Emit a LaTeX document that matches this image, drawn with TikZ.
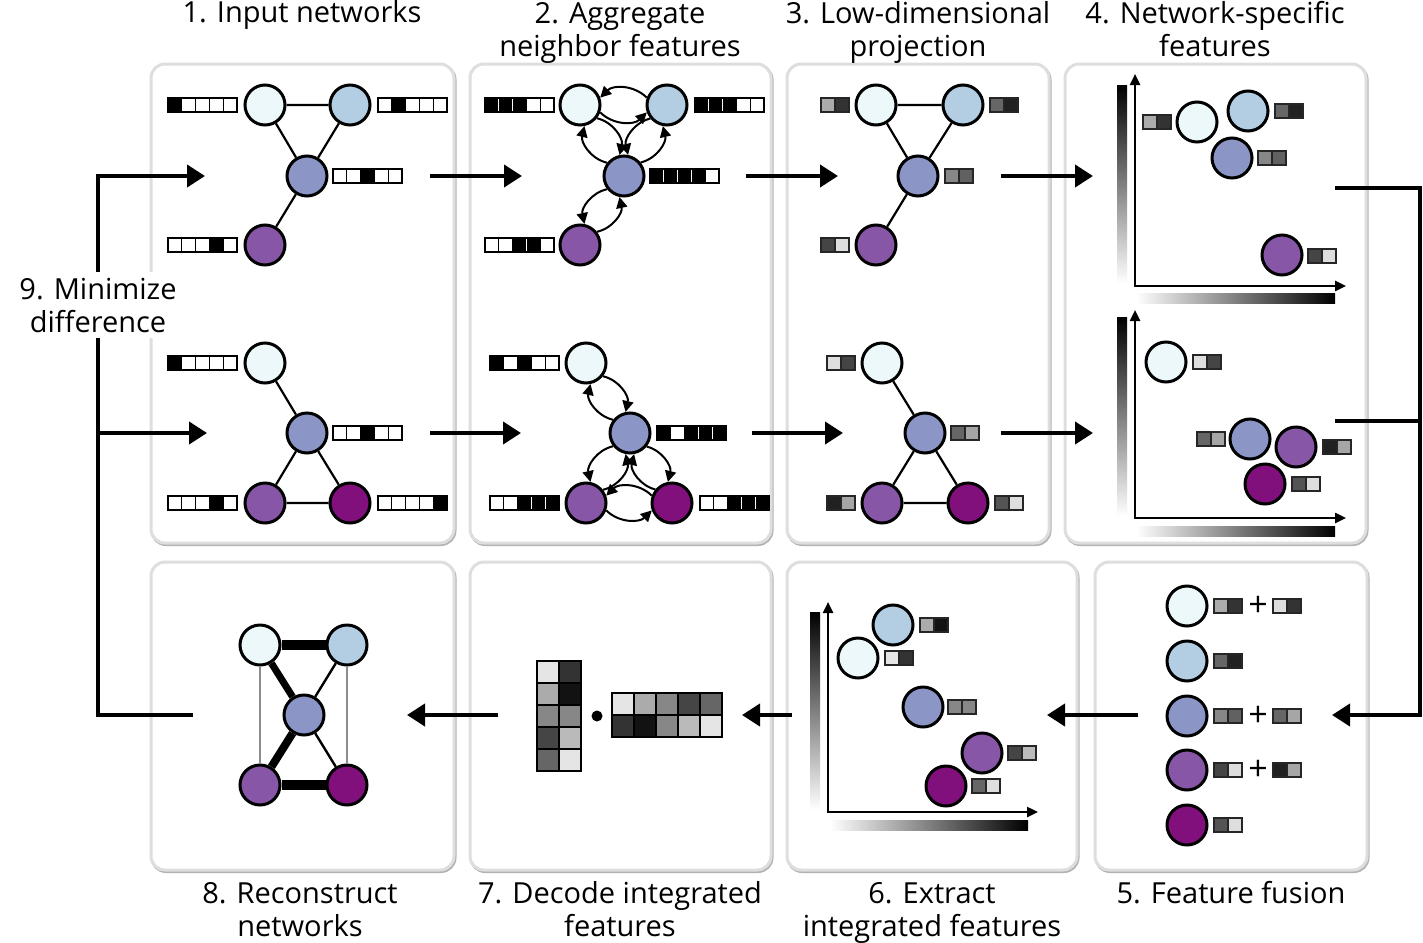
\documentclass[tikz,border=0pt]{standalone}
\usepackage{fontspec}
\setmainfont{Open Sans}
\usetikzlibrary{arrows.meta}
\definecolor{c1}{HTML}{EDF8FB}
\definecolor{c2}{HTML}{B3CDE3}
\definecolor{c3}{HTML}{8C96C6}
\definecolor{c4}{HTML}{8856A7}
\definecolor{c5}{HTML}{810F7C}
\newcommand\fvec[3]{%
  \foreach \v [count=\i, remember=\v as \pv (initially 0)] in {#3} {%
    \pgfmathsetmacro\xa{#1+(\i-1)*13.8}%
    \ifnum\v=1\relax
      \filldraw[fill=black,draw=black,line width=0.6pt] (\xa,-#2+7) rectangle ++(13.8,-14);%
    \else
      \filldraw[fill=white,draw=black,line width=0.6pt] (\xa,-#2+7) rectangle ++(13.8,-14);%
    \fi
    \ifnum\pv\v=11\relax
      \draw[white,line width=0.5pt] (\xa,-#2+5.6) -- (\xa,-#2-5.6);%
    \fi
  }%
}
\newcommand\gvec[4]{%
  \filldraw[fill=#3,draw=black!85,line width=0.6pt] (#1,-#2+7) rectangle ++(14,-14);
  \filldraw[fill=#4,draw=black!85,line width=0.6pt] (#1+14,-#2+7) rectangle ++(14,-14);}
\newcommand\panel[4]{%
  \draw[black!30,line width=1.5pt,rounded corners=7pt] (#1+1,-#2-1.5) rectangle (#3+1,-#4-1.5);
  \draw[black!13,line width=1.5pt,rounded corners=7pt,fill=white] (#1,-#2) rectangle (#3,-#4);}
\newcommand\biarc[5]{%
  \pgfmathtruncatemacro\ea{#3-20*#4}%
  \pgfmathtruncatemacro\eb{#3+180+20*#4}%
  \pgfmathtruncatemacro\ec{#3+180-20*#4}%
  \pgfmathtruncatemacro\ed{#3+20*#4}%
  \draw[carr] (#1.\ea) to[#5=45] (#2.\eb);
  \draw[carr] (#2.\ec) to[#5=45] (#1.\ed);}
\begin{document}
\begin{tikzpicture}[x=0.5pt,y=0.5pt,
  nd/.style={circle,draw=black,line width=1.5pt,minimum size=20pt,inner sep=0pt},
  edge/.style={line width=1.1pt},
  bigarr/.style={line width=2pt,-{Triangle[length=9pt,width=11pt]}},
  fb/.style={line width=2pt},
  carr/.style={line width=1pt,-{Triangle[length=5.5pt,width=5.5pt]}},
  axes/.style={line width=1.2pt,{Triangle[length=5.5pt,width=5pt]}-{Triangle[length=5.5pt,width=5pt]}},
  lbl/.style={font=\fontsize{14.5pt}{16.5pt}\selectfont,inner sep=0pt,align=center},
  plus/.style={font=\fontsize{17pt}{18pt}\selectfont,inner sep=0pt},
  mcell/.style={draw=black,line width=0.9pt}]
\useasboundingbox (0,0) rectangle (1423,-942);
% panels
\panel{151}{64}{454}{543}
\panel{470}{64}{771}{543}
\panel{787}{64}{1049}{543}
\panel{1065}{64}{1366}{543}
\panel{151}{562}{454}{870}
\panel{470}{562}{771}{870}
\panel{787}{562}{1077}{870}
\panel{1095}{562}{1367}{870}
% titles (anchor base = baseline of the last line)
\node[lbl,anchor=base] (t1) at (302,-23) {1. Input networks};
\node[lbl,anchor=base] (t2) at (620,-56) {2. Aggregate\\neighbor features};
\node[lbl,anchor=base] (t3) at (918,-56) {3. Low-dimensional\\projection};
\node[lbl,anchor=base] (t4) at (1215,-56) {4. Network-specific\\features};
\node[lbl,anchor=base] (t8) at (300,-936) {8. Reconstruct\\networks};
\node[lbl,anchor=base] (t7) at (620,-936) {7. Decode integrated\\features};
\node[lbl,anchor=base] (t6) at (932,-936) {6. Extract\\integrated features};
\node[lbl,anchor=base] (t5) at (1231,-903) {5. Feature fusion};
% feedback lines
\coordinate (fbs) at (193,-715);
\coordinate (fbc1) at (98,-715);
\coordinate (fbc2) at (98,-176);
\coordinate (fbe1) at (205,-176);
\coordinate (fbb) at (98,-433);
\coordinate (fbe2) at (207,-433);
\draw[bigarr] (fbs) -- (fbc1) -- (fbc2) -- (fbe1);
\draw[bigarr] (fbb) -- (fbe2);
\node[lbl,anchor=base,fill=white,inner sep=3pt] (t9) at (98,-332) {9. Minimize\\difference};
\coordinate (rs1) at (1335,-188);
\coordinate (rs2) at (1335,-421);
\coordinate (rc1) at (1420,-188);
\coordinate (rc2) at (1420,-421);
\coordinate (rc3) at (1420,-715);
\coordinate (re) at (1332,-715);
\draw[bigarr] (rs1) -- (rc1) -- (rc3) -- (re);
\draw[fb] (rs2) -- (rc2);
% inter-panel arrows
\coordinate (a1s) at (430,-176); \coordinate (a1e) at (522,-176);
\coordinate (a2s) at (746,-176); \coordinate (a2e) at (838,-176);
\coordinate (a3s) at (1001,-176); \coordinate (a3e) at (1093,-176);
\coordinate (b1s) at (430,-433); \coordinate (b1e) at (521,-433);
\coordinate (b2s) at (752,-433); \coordinate (b2e) at (843,-433);
\coordinate (b3s) at (1001,-433); \coordinate (b3e) at (1093,-433);
\coordinate (c1s) at (1138,-715); \coordinate (c1e) at (1047,-715);
\coordinate (c2s) at (792,-715); \coordinate (c2e) at (742,-715);
\coordinate (c3s) at (498,-715); \coordinate (c3e) at (407,-715);
\foreach \s/\e in {a1s/a1e,a2s/a2e,a3s/a3e,b1s/b1e,b2s/b2e,b3s/b3e,c1s/c1e,c2s/c2e,c3s/c3e}
  \draw[bigarr] (\s) -- (\e);
% ---- panel 1 top
\node[nd,fill=c1] (p1a) at (265,-105) {};
\node[nd,fill=c2] (p1b) at (350,-105) {};
\node[nd,fill=c3] (p1c) at (307,-176) {};
\node[nd,fill=c4] (p1d) at (265,-245) {};
\draw[edge] (p1a)--(p1b) (p1a)--(p1c) (p1b)--(p1c) (p1c)--(p1d);
\fvec{168}{105}{1,0,0,0,0}
\fvec{378}{105}{0,1,0,0,0}
\fvec{333}{176}{0,0,1,0,0}
\fvec{168}{245}{0,0,0,1,0}
% ---- panel 1 bottom
\node[nd,fill=c1] (q1a) at (265,-363) {};
\node[nd,fill=c3] (q1c) at (307,-433) {};
\node[nd,fill=c4] (q1d) at (265,-503) {};
\node[nd,fill=c5] (q1e) at (350,-503) {};
\draw[edge] (q1a)--(q1c) (q1c)--(q1d) (q1c)--(q1e) (q1d)--(q1e);
\fvec{168}{363}{1,0,0,0,0}
\fvec{333}{433}{0,0,1,0,0}
\fvec{168}{503}{0,0,0,1,0}
\fvec{378}{503}{0,0,0,0,1}
% ---- panel 2 top
\node[nd,fill=c1] (p2a) at (580,-105) {};
\node[nd,fill=c2] (p2b) at (667,-105) {};
\node[nd,fill=c3] (p2c) at (624,-176) {};
\node[nd,fill=c4] (p2d) at (580,-245) {};
\biarc{p2a}{p2b}{0}{1}{bend right}
\biarc{p2a}{p2c}{-58}{-1}{bend left}
\biarc{p2b}{p2c}{-121}{1}{bend right}
\biarc{p2c}{p2d}{-122}{1}{bend right}
\fvec{485}{105}{1,1,1,0,0}
\fvec{695}{105}{1,1,1,0,0}
\fvec{650}{176}{1,1,1,1,0}
\fvec{485}{245}{0,0,1,1,0}
% ---- panel 2 bottom
\node[nd,fill=c1] (q2a) at (586,-363) {};
\node[nd,fill=c3] (q2c) at (630,-433) {};
\node[nd,fill=c4] (q2d) at (586,-503) {};
\node[nd,fill=c5] (q2e) at (672,-503) {};
\biarc{q2a}{q2c}{-58}{-1}{bend left}
\biarc{q2c}{q2d}{-122}{1}{bend right}
\biarc{q2c}{q2e}{-59}{-1}{bend left}
\biarc{q2d}{q2e}{0}{1}{bend right}
\fvec{490}{363}{1,0,1,0,0}
\fvec{657}{433}{1,0,1,1,1}
\fvec{490}{503}{0,0,1,1,1}
\fvec{700}{503}{0,0,1,1,1}
% ---- panel 3 top
\node[nd,fill=c1] (p3a) at (876,-105) {};
\node[nd,fill=c2] (p3b) at (963,-105) {};
\node[nd,fill=c3] (p3c) at (918,-176) {};
\node[nd,fill=c4] (p3d) at (876,-245) {};
\draw[edge] (p3a)--(p3b) (p3a)--(p3c) (p3b)--(p3c) (p3c)--(p3d);
\gvec{821}{105}{black!33}{black!80}
\gvec{990}{105}{black!60}{black!87}
\gvec{945}{176}{black!47}{black!62}
\gvec{821}{245}{black!73}{black!13}
% ---- panel 3 bottom
\node[nd,fill=c1] (q3a) at (882,-363) {};
\node[nd,fill=c3] (q3c) at (925,-433) {};
\node[nd,fill=c4] (q3d) at (882,-503) {};
\node[nd,fill=c5] (q3e) at (968,-503) {};
\draw[edge] (q3a)--(q3c) (q3c)--(q3d) (q3c)--(q3e) (q3d)--(q3e);
\gvec{827}{363}{black!13}{black!73}
\gvec{951}{433}{black!60}{black!35}
\gvec{827}{503}{black!87}{black!35}
\gvec{995}{503}{black!67}{black!13}
% ---- panel 4 top
\shade[top color=black,bottom color=white] (1117,-85) rectangle (1127,-283);
\shade[left color=white,right color=black] (1136,-293) rectangle (1335,-303);
\coordinate (o4) at (1135,-286);
\coordinate (o4y) at (1135,-74);
\coordinate (o4x) at (1346,-286);
\draw[axes] (o4y) -- (o4) -- (o4x);
\node[nd,fill=c1] (p4a) at (1197,-122) {};
\node[nd,fill=c2] (p4b) at (1248,-111) {};
\node[nd,fill=c3] (p4c) at (1232,-158) {};
\node[nd,fill=c4] (p4d) at (1282,-255) {};
\gvec{1143}{122}{black!33}{black!80}
\gvec{1275}{111}{black!60}{black!87}
\gvec{1258}{158}{black!47}{black!62}
\gvec{1308}{256}{black!73}{black!13}
% ---- panel 4 bottom
\shade[top color=black,bottom color=white] (1117,-317) rectangle (1127,-516);
\shade[left color=white,right color=black] (1136,-526) rectangle (1335,-536);
\coordinate (o5) at (1135,-518);
\coordinate (o5y) at (1135,-310);
\coordinate (o5x) at (1346,-518);
\draw[axes] (o5y) -- (o5) -- (o5x);
\node[nd,fill=c1] (q4a) at (1166,-362) {};
\node[nd,fill=c3] (q4c) at (1250,-439) {};
\node[nd,fill=c4] (q4d) at (1296,-447) {};
\node[nd,fill=c5] (q4e) at (1265,-484) {};
\gvec{1193}{362}{black!13}{black!73}
\gvec{1197}{439}{black!60}{black!35}
\gvec{1323}{447}{black!87}{black!35}
\gvec{1292}{484}{black!67}{black!13}
% ---- panel 5
\node[nd,fill=c1] (f1) at (1187,-606) {};
\node[nd,fill=c2] (f2) at (1187,-661) {};
\node[nd,fill=c3] (f3) at (1187,-716) {};
\node[nd,fill=c4] (f4) at (1187,-770) {};
\node[nd,fill=c5] (f5) at (1187,-825) {};
\gvec{1214}{606}{black!33}{black!80}
\gvec{1273}{606}{black!13}{black!80}
\gvec{1214}{661}{black!60}{black!87}
\gvec{1214}{716}{black!47}{black!62}
\gvec{1273}{716}{black!60}{black!35}
\gvec{1214}{770}{black!73}{black!13}
\gvec{1273}{770}{black!87}{black!35}
\gvec{1214}{825}{black!67}{black!13}
\node[plus] (pl1) at (1258,-606) {+};
\node[plus] (pl3) at (1258,-716) {+};
\node[plus] (pl4) at (1258,-770) {+};
% ---- panel 6
\shade[top color=black,bottom color=white] (810,-612) rectangle (820,-810);
\shade[left color=white,right color=black] (830,-820) rectangle (1028,-830);
\coordinate (o6) at (828,-812);
\coordinate (o6y) at (828,-602);
\coordinate (o6x) at (1038,-812);
\draw[axes] (o6y) -- (o6) -- (o6x);
\node[nd,fill=c2] (e2) at (893,-625) {};
\node[nd,fill=c1] (e1) at (858,-658) {};
\node[nd,fill=c3] (e3) at (923,-707) {};
\node[nd,fill=c4] (e4) at (982,-753) {};
\node[nd,fill=c5] (e5) at (946,-786) {};
\gvec{920}{625}{black!33}{black!93}
\gvec{885}{658}{black!10}{black!80}
\gvec{948}{707}{black!47}{black!47}
\gvec{1008}{753}{black!73}{black!27}
\gvec{972}{786}{black!60}{black!13}
% ---- panel 7
\foreach \c [count=\i from 0] in {black!10,black!33,black!47,black!73,black!60}
  \filldraw[mcell,fill=\c] (537,-661-22*\i) rectangle ++(22,-22);
\foreach \c [count=\i from 0] in {black!80,black!93,black!47,black!27,black!10}
  \filldraw[mcell,fill=\c] (559,-661-22*\i) rectangle ++(22,-22);
\node[circle,fill=black,inner sep=0pt,minimum size=5.5pt] (dot) at (597,-716) {};
\foreach \c [count=\i from 0] in {black!10,black!33,black!47,black!73,black!60}
  \filldraw[mcell,fill=\c] (612+22*\i,-693) rectangle ++(22,-22);
\foreach \c [count=\i from 0] in {black!80,black!93,black!47,black!27,black!10}
  \filldraw[mcell,fill=\c] (612+22*\i,-715) rectangle ++(22,-22);
% ---- panel 8
\node[nd,fill=c1] (r1) at (260,-645) {};
\node[nd,fill=c2] (r2) at (347,-645) {};
\node[nd,fill=c3] (r3) at (304,-715) {};
\node[nd,fill=c4] (r4) at (260,-785) {};
\node[nd,fill=c5] (r5) at (347,-785) {};
\draw[black!45,line width=0.6pt] (r1)--(r4) (r2)--(r5);
\draw[line width=5pt] (r1)--(r2) (r4)--(r5);
\draw[line width=3.5pt] (r1)--(r3);
\draw[line width=4pt] (r3)--(r4);
\draw[line width=1.2pt] (r2)--(r3) (r3)--(r5);
\end{tikzpicture}
\end{document}
